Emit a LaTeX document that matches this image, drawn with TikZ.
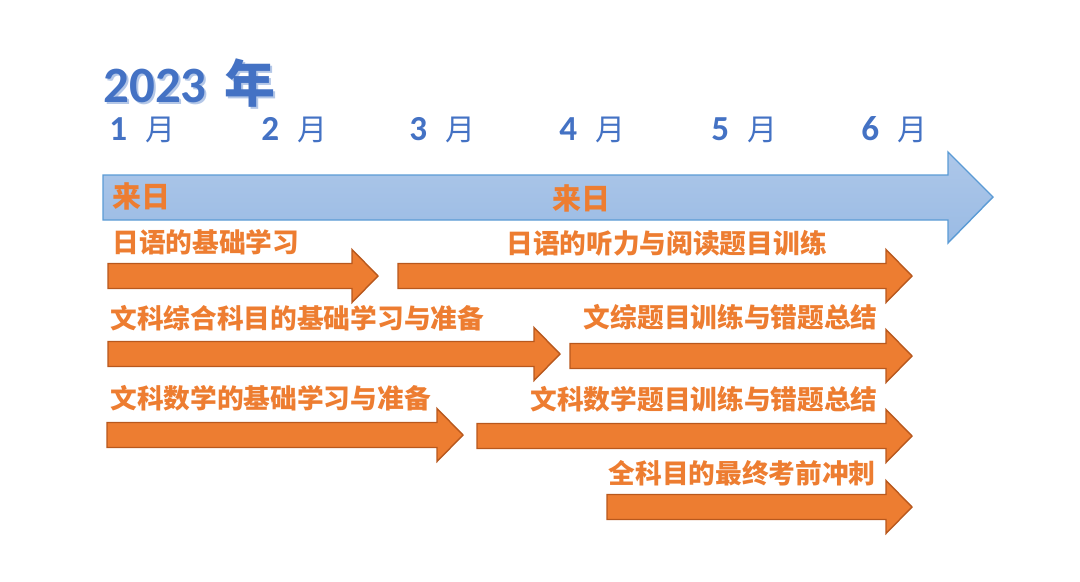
\documentclass[tikz,border=0pt]{standalone}
\usepackage{fontspec}
\newfontfamily\cjk{Noto Sans CJK SC}
\newfontfamily\latin{Carlito}
\definecolor{yearblue}{HTML}{4472C4}
\definecolor{shadowblue}{HTML}{B4C7E7}
\definecolor{barlight}{HTML}{ADC7E9}
\definecolor{bardark}{HTML}{9ABBE4}
\definecolor{barline}{HTML}{5B9BD5}
\definecolor{taskorange}{HTML}{ED7D31}
\definecolor{taskline}{HTML}{B8581D}
\tikzset{
  timeline/.style={top color=barlight,bottom color=bardark,draw=barline,line width=0.8pt},
  taskbar/.style={fill=taskorange,draw=taskline,line width=0.8pt},
  tasklabel/.style={inner sep=0pt,text=taskorange,font=\cjk\bfseries\fontsize{15.2}{17}\selectfont},
  monthlabel/.style={inner sep=0pt,anchor=west,text=yearblue,font=\fontsize{17}{19}\selectfont}
}
% task arrow: start x, tip x, centre y (pixel units)
\newcommand{\taskarrow}[3]{%
  \draw[taskbar] (#1,#3-12.5) -- (#2-26,#3-12.5) -- (#2-26,#3-26.5) -- (#2,#3)
    -- (#2-26,#3+26.5) -- (#2-26,#3+12.5) -- (#1,#3+12.5) -- cycle;}
\begin{document}
\begin{tikzpicture}[x=0.02cm,y=-0.02cm]
        \useasboundingbox (0,0) rectangle (1080,582);
        % year and months
        \node[inner sep=0pt,anchor=west,text=shadowblue,font=\bfseries\fontsize{29}{31}\selectfont] (yearshadow) at (105,85) {\latin 2023\hspace{0.35em}\cjk 年};
        \node[inner sep=0pt,anchor=west,text=yearblue,font=\bfseries\fontsize{29}{31}\selectfont] (year) at (103,83) {\latin 2023\hspace{0.35em}\cjk 年};
        \foreach \m/\x in {1/109,2/261,3/409,4/559,5/711,6/861}
          \node[monthlabel] (month\m) at (\x,130) {{\latin\bfseries\fontsize{20}{20}\selectfont\m}\hspace{0.6em}\cjk 月};
        % time axis
        \draw[timeline] (103,175) -- (948,175) -- (948,152) -- (993,197) -- (948,243)
          -- (948,220) -- (103,220) -- cycle;
        \node[tasklabel,anchor=west,font=\cjk\bfseries\fontsize{16.5}{18}\selectfont] (arrive1) at (112,196) {来日};
        \node[tasklabel,anchor=west,font=\cjk\bfseries\fontsize{16.5}{18}\selectfont] (arrive2) at (552,198) {来日};
        % japanese
        \node[tasklabel,anchor=west] (jpbasic) at (112,242) {日语的基础学习};
        \taskarrow{108}{378}{276}
        \node[tasklabel,anchor=west] (jptrain) at (506,243) {日语的听力与阅读题目训练};
        \taskarrow{398}{912}{276}
        % liberal arts
        \node[tasklabel,anchor=west] (lsbasic) at (110,318) {文科综合科目的基础学习与准备};
        \taskarrow{108}{560}{354}
        \node[tasklabel,anchor=east] (lstrain) at (878,317) {文综题目训练与错题总结};
        \taskarrow{570}{912}{356}
        % maths
        \node[tasklabel,anchor=west] (mabasic) at (110,398) {文科数学的基础学习与准备};
        \taskarrow{107}{463}{435}
        \node[tasklabel,anchor=east] (matrain) at (878,399) {文科数学题目训练与错题总结};
        \taskarrow{477}{912}{436}
        % final
        \node[tasklabel,anchor=east] (final) at (876,473) {全科目的最终考前冲刺};
        \taskarrow{607}{912}{507}
\end{tikzpicture}
\end{document}
